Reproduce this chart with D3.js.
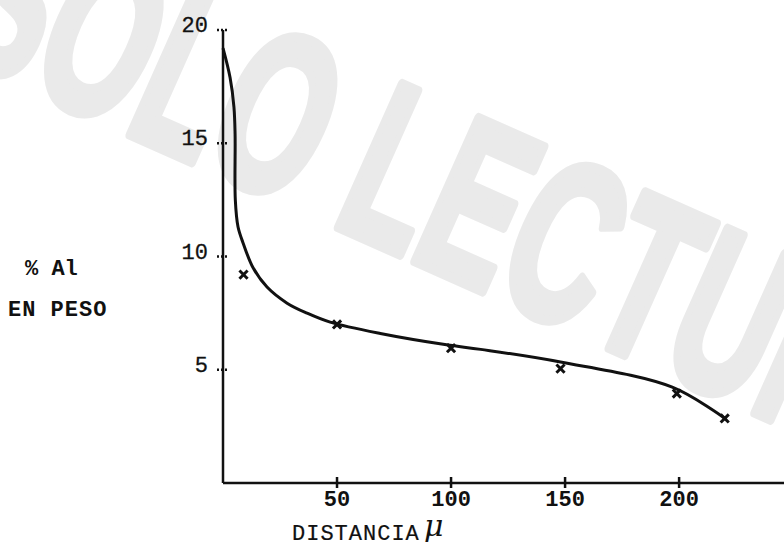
<!DOCTYPE html>
<html>
<head>
<meta charset="utf-8">
<script src="https://cdn.jsdelivr.net/npm/d3@7"></script>
<style>
  body { margin: 0; background: #fff; }
  text { font-family: 'Liberation Mono', 'DejaVu Sans Mono', monospace; fill: #111; }
</style>
</head>
<body>
<svg id="chart"></svg>
<script>
// tick labels
const xTicks = [50, 100, 150, 200]
const yTicks = [5, 10, 15, 20]

// measured points (the x marks)
const markX = [9, 50, 100, 148, 199, 220]
const markY = [9.2, 7.0, 5.95, 5.05, 3.95, 2.85]

// hand drawn curve through the data
const curveX = [0, 3.1, 4.8, 5.3, 5.4, 6.6, 8.8, 13.2, 19.3, 28.1, 36.8, 47, 69, 98, 113, 148, 197, 220]
const curveY = [19.2, 17.9, 16.6, 15.4, 12.5, 11.3, 10.6, 9.5, 8.65, 7.94, 7.5, 7.1, 6.6, 6.1, 5.9, 5.34, 4.23, 2.85]

const width = 784
const height = 546

const svg = d3.select('#chart').attr('width', width).attr('height', height)

// faint watermark across the page
svg
  .append('text')
  .attr('transform', 'translate(-60,50) rotate(24) scale(0.6,1)')
  .attr('font-weight', 'bold')
  .attr('font-size', 228)
  .style('font-family', 'Liberation Sans, Arial, sans-serif')
  .style('fill', '#eaeaea')
  .style('stroke', '#eaeaea')
  .style('stroke-width', 10)
  .style('stroke-linejoin', 'round')
  .text('SOLO LECTURA')

const x = d3.scaleLinear().domain([0, 246]).range([223, 784])
const y = d3.scaleLinear().domain([0, 20]).range([483, 30])

// axes lines
svg
  .append('line')
  .attr('x1', x(0)).attr('x2', x(246))
  .attr('y1', y(0)).attr('y2', y(0))
  .attr('stroke', '#111').attr('stroke-width', 2.5)

svg
  .append('line')
  .attr('x1', x(0)).attr('x2', x(0))
  .attr('y1', y(0)).attr('y2', y(20))
  .attr('stroke', '#111').attr('stroke-width', 2.5)

// x ticks
const gx = svg.append('g')
gx.selectAll('line')
  .data(xTicks)
  .enter()
  .append('line')
  .attr('x1', d => x(d)).attr('x2', d => x(d))
  .attr('y1', y(0) - 6).attr('y2', y(0) + 5)
  .attr('stroke', '#111').attr('stroke-width', 2.5)

gx.selectAll('text')
  .data(xTicks)
  .enter()
  .append('text')
  .attr('x', d => x(d))
  .attr('y', y(0) + 23)
  .attr('text-anchor', 'middle')
  .attr('font-size', 22)
  .attr('font-weight', 'bold')
  .text(d => d)

// y ticks
const gy = svg.append('g')
gy.selectAll('line')
  .data(yTicks)
  .enter()
  .append('line')
  .attr('x1', x(0) - 6).attr('x2', x(0) + 4)
  .attr('y1', d => y(d)).attr('y2', d => y(d))
  .attr('stroke', '#111').attr('stroke-width', 2.5)
  .attr('stroke-dasharray', '2,2')

gy.selectAll('text')
  .data(yTicks)
  .enter()
  .append('text')
  .attr('x', x(0) - 15)
  .attr('y', d => y(d))
  .attr('dy', '0.1em')
  .attr('text-anchor', 'end')
  .attr('font-size', 22)
  .style('stroke', '#111')
  .style('stroke-width', 0.3)
  .text(d => d)

// curve
const line = d3
  .line()
  .x(d => x(d[0]))
  .y(d => y(d[1]))
  .curve(d3.curveCatmullRom.alpha(0.5))

svg
  .append('path')
  .datum(curveX.map((v, i) => [v, curveY[i]]))
  .attr('d', line)
  .attr('fill', 'none')
  .attr('stroke', '#111')
  .attr('stroke-width', 3)

// x marks
svg
  .selectAll('.mark')
  .data(markX.map((v, i) => [v, markY[i]]))
  .enter()
  .append('path')
  .attr('class', 'mark')
  .attr('d', d3.symbol(d3.symbolTimes, 45))
  .attr('transform', d => 'translate(' + x(d[0]) + ',' + y(d[1]) + ')')
  .attr('fill', 'none')
  .attr('stroke', '#111')
  .attr('stroke-width', 3)

// axis titles
svg.append('text')
  .attr('x', 25).attr('y', 275)
  .attr('font-size', 22).attr('font-weight', 'bold')
  .text('% Al')

svg.append('text')
  .attr('x', 8).attr('y', 316)
  .attr('font-size', 22).attr('font-weight', 'bold')
  .attr('letter-spacing', 1)
  .text('EN PESO')

svg.append('text')
  .attr('x', 292).attr('y', 540)
  .attr('font-size', 22)
  .attr('letter-spacing', 1)
  .style('stroke', '#111')
  .style('stroke-width', 0.2)
  .text('DISTANCIA')

svg.append('text')
  .attr('x', 424).attr('y', 536)
  .attr('font-size', 30)
  .attr('font-style', 'italic')
  .style('font-family', 'DejaVu Serif, serif')
  .text('μ')
</script>
</body>
</html>
